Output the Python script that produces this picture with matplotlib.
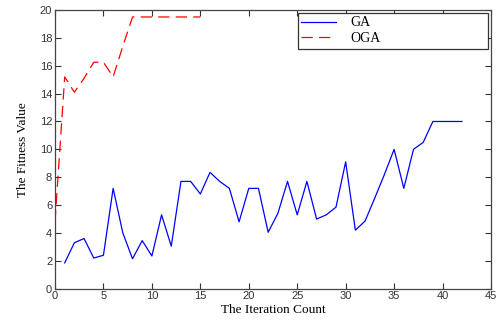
import matplotlib
matplotlib.use('Agg')
import matplotlib.pyplot as plt

# GA fitness per iteration (iterations 1..42)
ga_iter = list(range(1, 43))
ga_fitness = [1.85, 3.3, 3.6, 2.2, 2.4, 7.2, 4.0, 2.15, 3.45, 2.35,
              5.3, 3.05, 7.7, 7.7, 6.8, 8.35, 7.7, 7.2, 4.8, 7.2,
              7.2, 4.05, 5.4, 7.7, 5.3, 7.7, 5.0, 5.3, 5.85, 9.1,
              4.2, 4.85, 6.5, 8.2, 10.0, 7.2, 10.0, 10.5, 12.0, 12.0,
              12.0, 12.0]

# OGA fitness per iteration (iterations 0..15)
oga_iter = list(range(0, 16))
oga_fitness = [4.8, 15.2, 14.1, 15.1, 16.25, 16.25, 15.2, 17.4, 19.5, 19.5,
               19.5, 19.5, 19.5, 19.5, 19.5, 19.5]

x_ticks = list(range(0, 46, 5))
y_ticks = list(range(0, 21, 2))

fig = plt.figure(figsize=(4.96, 3.21), dpi=100)
ax = fig.add_axes([55 / 496, 1 - 288.7 / 321, 436 / 496, 278.7 / 321])

ax.plot(ga_iter, ga_fitness, color='#0000ff', lw=0.9, label='GA')
ax.plot(oga_iter, oga_fitness, color='#ff0000', lw=0.9, dashes=(9, 5), label='OGA')

ax.set_xlim(0, 45)
ax.set_ylim(0, 20)
ax.set_xticks(x_ticks)
ax.set_yticks(y_ticks)
ax.tick_params(direction='in', length=4, width=0.8, top=True, right=True,
               labelsize=8, pad=2, colors='#333333')
for lbl in ax.get_xticklabels() + ax.get_yticklabels():
    lbl.set_family('Liberation Sans')
for sp in ax.spines.values():
    sp.set_color('#444444')
    sp.set_linewidth(0.9)

ax.set_xlabel('The Iteration Count', family='Liberation Serif', fontsize=9.5, labelpad=2)
ax.set_ylabel('The Fitness Value', family='Liberation Serif', fontsize=9.5, labelpad=8)

leg = ax.legend(loc='upper left', mode='expand',
                bbox_to_anchor=(298 / 496, 1 - 51 / 321, 190 / 496, 38 / 321),
                bbox_transform=fig.transFigure, borderaxespad=0, borderpad=0.25,
                fancybox=False, framealpha=1, edgecolor='#333333',
                handlelength=2.5, handletextpad=1.0, labelspacing=0.2,
                prop={'family': 'Liberation Serif', 'size': 10})
leg.get_frame().set_linewidth(0.9)

fig.savefig('out.png', dpi=100)
